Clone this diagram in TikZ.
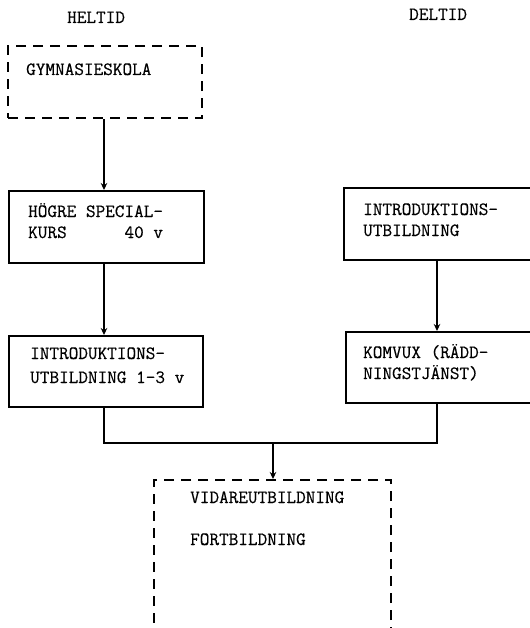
\documentclass[tikz,border=0pt]{standalone}
\usepackage{fontspec}
\newfontfamily\tw[FakeBold=0.4]{Latin Modern Mono}
\usetikzlibrary{arrows.meta}
\tikzset{
  box/.style={draw, line width=2pt, inner sep=0pt, anchor=north west},
  dbox/.style={box, line width=2.2pt, dash pattern=on 10bp off 7bp},
  lbl/.style={anchor=base west, inner sep=0pt, font=\tw\fontsize{18.7bp}{22bp}\selectfont},
  arr/.style={-{Stealth[length=7bp,width=6.5bp]}, line width=1.9pt},
  con/.style={line width=1.9pt}
}
\begin{document}
\begin{tikzpicture}[x=1bp,y=-1bp]
\useasboundingbox (0,0) rectangle (530,628);
% headings
\node[lbl] (hel) at (67,23) {HELTID};
\node[lbl] (del) at (409,20) {DELTID};
% boxes
\node[dbox, minimum width=194bp, minimum height=72bp] (gym) at (7,45) {};
\node[box, minimum width=195bp, minimum height=72bp] (hog) at (8,190) {};
\node[box, minimum width=194bp, minimum height=71bp] (intl) at (8,335) {};
\node[box, minimum width=200bp, minimum height=72bp] (intr) at (343,187) {};
\node[box, minimum width=200bp, minimum height=71bp] (kom) at (345,331) {};
\node[dbox, minimum width=237bp, minimum height=175bp] (vid) at (153,479) {};
% texts
\node[lbl] (tgym) at (26,75) {GYMNASIESKOLA};
\node[lbl] (thog1) at (28,217) {HÖGRE SPECIAL-};
\node[lbl] (thog2) at (28,238) {KURS\ \ \ \ \ \ 40 v};
\node[lbl] (tintl1) at (30,359) {INTRODUKTIONS-};
\node[lbl] (tintl2) at (30,383) {UTBILDNING 1-3 v};
\node[lbl] (tintr1) at (363,215) {INTRODUKTIONS-};
\node[lbl] (tintr2) at (363,236) {UTBILDNING};
\node[lbl] (tkom1) at (363,358) {KOMVUX (RÄDD-};
\node[lbl] (tkom2) at (363,379) {NINGSTJÄNST)};
\node[lbl] (tvid1) at (190,503) {VIDAREUTBILDNING};
\node[lbl] (tvid2) at (190,545) {FORTBILDNING};
% connectors
\coordinate (lc) at (104,0);
\coordinate (rc) at (437,0);
\coordinate (j) at (273,443);
\draw[arr] (gym.south -| lc) -- (hog.north -| lc);
\draw[arr] (hog.south -| lc) -- (intl.north -| lc);
\draw[arr] (intr.south -| rc) -- (kom.north -| rc);
\draw[con] (intl.south -| lc) |- (j) -| (kom.south -| rc);
\draw[arr] (j) -- (j |- vid.north);
\end{tikzpicture}
\end{document}
